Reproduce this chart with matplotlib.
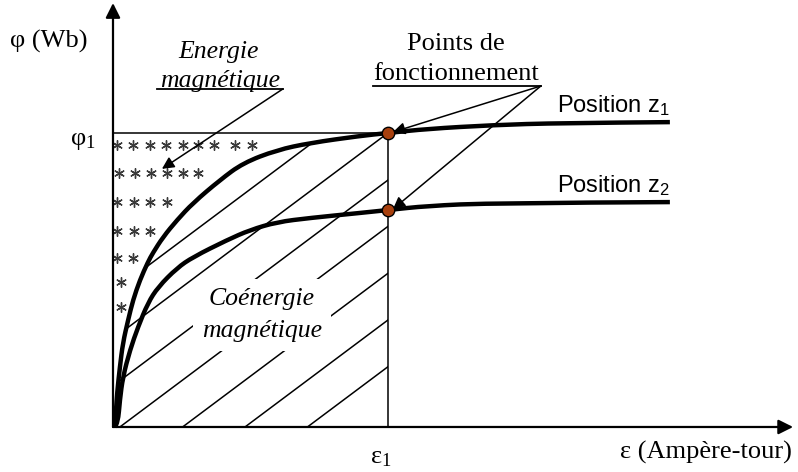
import numpy as np
import matplotlib
matplotlib.use("Agg")
import matplotlib.pyplot as plt
from matplotlib.patches import Polygon, PathPatch
from matplotlib.path import Path

plt.rcParams['font.family'] = ['Liberation Serif', 'DejaVu Serif']
plt.rcParams['mathtext.fontset'] = 'custom'
plt.rcParams['mathtext.rm'] = 'Liberation Serif'
plt.rcParams['mathtext.it'] = 'Liberation Serif:italic'
plt.rcParams['mathtext.sf'] = 'Liberation Sans'

# flux curves phi(eps), eps1 = 1 and phi1 = 1
eps_z1 = [0.007, 0.011, 0.015, 0.025, 0.036, 0.055, 0.073, 0.098, 0.127, 0.145, 0.182,
          0.233, 0.291, 0.389, 0.473, 0.596, 0.716, 0.898, 1.0, 1.142, 1.382, 1.625, 2.025]
phi_z1 = [0.0, 0.058, 0.116, 0.204, 0.286, 0.364, 0.432, 0.500, 0.561, 0.592, 0.646,
          0.704, 0.762, 0.840, 0.898, 0.942, 0.966, 0.990, 1.0, 1.014, 1.027, 1.034, 1.037]
eps_z2 = [0.007, 0.018, 0.025, 0.036, 0.062, 0.091, 0.127, 0.164, 0.233, 0.291, 0.415,
          0.498, 0.596, 0.716, 0.898, 1.0, 1.142, 1.382, 2.025]
phi_z2 = [0.0, 0.014, 0.092, 0.170, 0.262, 0.340, 0.422, 0.476, 0.541, 0.578, 0.636,
          0.670, 0.697, 0.711, 0.728, 0.738, 0.752, 0.762, 0.765]
eps1 = 1.0
phi1 = 1.0
phi_op = [1.0, 0.738]          # operating points on z1, z2

# asterisks filling the energy area: row heights and x positions
star_rows = [0.959, 0.864, 0.765, 0.667, 0.575, 0.493, 0.408]
star_x = [[0.015, 0.073, 0.135, 0.193, 0.255, 0.309, 0.367, 0.444, 0.505],
          [0.022, 0.080, 0.138, 0.196, 0.255, 0.309],
          [0.015, 0.076, 0.135, 0.196],
          [0.015, 0.076, 0.135],
          [0.015, 0.073],
          [0.029],
          [0.029]]

# hatch lines (x-axis intercepts), slope of hatching
hatch_x0 = [-0.656, -0.429, -0.200, 0.025, 0.253, 0.480, 0.707]
hatch_slope = 0.70


def smooth_path(xs, ys):
    # quadratic bezier through midpoints, keeps the end points
    pts = np.column_stack([xs, ys])
    verts = [pts[0]]
    codes = [Path.MOVETO]
    for i in range(1, len(pts) - 1):
        mid = (pts[i] + pts[i + 1]) / 2
        if i == len(pts) - 2:
            mid = pts[-1]
        verts += [pts[i], mid]
        codes += [Path.CURVE3, Path.CURVE3]
    return Path(verts, codes)


fig = plt.figure(figsize=(7.98, 4.72), dpi=100)
ax = fig.add_axes([0, 0, 1, 1])
ax.set_xlim(-0.4109, 2.4909)
ax.set_ylim(-0.1531, 1.4524)
ax.axis('off')

# axes with arrows
ax.annotate('', xy=(2.473, 0), xytext=(0, 0),
            arrowprops=dict(arrowstyle='-|>', lw=1.6, color='k', mutation_scale=22,
                            shrinkA=0, shrinkB=0))
ax.annotate('', xy=(0, 1.442), xytext=(0, 0),
            arrowprops=dict(arrowstyle='-|>', lw=1.6, color='k', mutation_scale=22,
                            shrinkA=0, shrinkB=0))

# phi1 / eps1 guides
ax.plot([0, eps1], [phi1, phi1], color='k', lw=1.1)
ax.plot([eps1, eps1], [0, phi1], color='k', lw=1.1)

# hatching of coenergy region, clipped under z1
e1 = np.array(eps_z1)
p1 = np.array(phi_z1)
inside = e1 <= eps1
clip_pts = [(0, 0)] + list(zip(e1[inside], p1[inside])) + [(eps1, 0)]
clip = Polygon(clip_pts, closed=True, fc='none', ec='none')
ax.add_patch(clip)
for x0 in hatch_x0:
    ln, = ax.plot([x0, x0 + 2], [0, 2 * hatch_slope], color='k', lw=1.1, zorder=1)
    ln.set_clip_path(clip)

# asterisks
for y, xs in zip(star_rows, star_x):
    ax.scatter(xs, [y] * len(xs), marker=(6, 2, 0), s=48, color='#3a3a3a',
               linewidths=1.0, zorder=2)

# curves
for xs, ys in [(eps_z1, phi_z1), (eps_z2, phi_z2)]:
    ax.add_patch(PathPatch(smooth_path(xs, ys), fc='none', ec='k', lw=3.2,
                           capstyle='butt', joinstyle='round', zorder=3))

# text labels
ax.text(-0.233, 1.312, 'φ (Wb)', fontsize=19, ha='center', va='center')
ax.text(-0.062, 0.972, 'φ$_1$', fontsize=19, ha='right', va='center')
ax.text(0.975, -0.105, 'ε$_1$', fontsize=19, ha='center', va='center')
ax.text(2.469, -0.085, 'ε (Ampère-tour)', fontsize=19, ha='right', va='center')

ax.text(0.382, 1.276, 'Energie', fontsize=18.5, style='italic', ha='center', va='center')
ax.text(0.389, 1.176, 'magnétique', fontsize=18.5, style='italic', ha='center', va='center')
ax.plot([0.160, 0.618], [1.150, 1.150], color='k', lw=1.3)
ax.annotate('', xy=(0.178, 0.878), xytext=(0.618, 1.150),
            arrowprops=dict(arrowstyle='-|>', lw=1.1, color='k', mutation_scale=18,
                            shrinkA=0, shrinkB=0), zorder=4)

ax.text(1.247, 1.302, 'Points de', fontsize=19, ha='center', va='center')
ax.text(1.247, 1.200, 'fonctionnement', fontsize=19, ha='center', va='center')
ax.plot([0.945, 1.556], [1.160, 1.160], color='k', lw=1.3)
for y in phi_op:
    ax.annotate('', xy=(eps1 + 0.018, y + 0.003), xytext=(1.556, 1.160),
                arrowprops=dict(arrowstyle='-|>', lw=1.1, color='k', mutation_scale=18,
                                shrinkA=0, shrinkB=0), zorder=4)

ax.text(1.615, 1.092, r'Position z$_{\mathsf{1}}$', fontsize=17, family='Liberation Sans',
        ha='left', va='center')
ax.text(1.615, 0.820, r'Position z$_{\mathsf{2}}$', fontsize=17, family='Liberation Sans',
        ha='left', va='center')

box = dict(boxstyle='square,pad=0.35', fc='white', ec='none')
ax.text(0.542, 0.435, 'Coénergie', fontsize=18.5, style='italic', ha='center',
        va='center', bbox=box, zorder=2)
ax.text(0.542, 0.327, 'magnétique', fontsize=18.5, style='italic', ha='center',
        va='center', bbox=box, zorder=2)

# operating points
ax.scatter([eps1, eps1], phi_op, s=80, color='#a8400e', edgecolors='k',
           linewidths=1, zorder=5)

fig.savefig('out.png', dpi=100)
